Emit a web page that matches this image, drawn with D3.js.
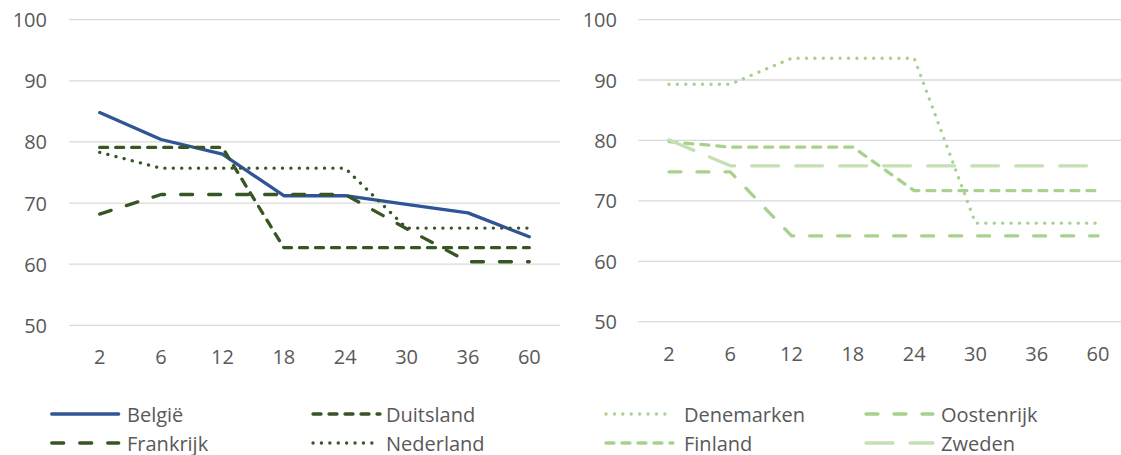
<!DOCTYPE html>
<html>
<head>
<meta charset="utf-8">
<script src="https://cdn.jsdelivr.net/npm/d3@7"></script>
<style>
  html, body { margin: 0; padding: 0; background: #fff; }
  svg { display: block; }
  text { font-family: "Open Sans", "Noto Sans", sans-serif; fill: #595959; }
</style>
</head>
<body>
<svg id="chart" width="1121" height="455"></svg>
<script>
// ---- data ----
const categories = ["2", "6", "12", "18", "24", "30", "36", "60"];
const yTicks = [50, 60, 70, 80, 90, 100];

// left panel
const belgie     = [84.8, 80.4, 78.0, 71.2, 71.2, 69.8, 68.4, 64.5];
const duitsland  = [79.1, 79.1, 79.1, 62.7, 62.7, 62.7, 62.7, 62.7];
const frankrijk  = [68.2, 71.4, 71.4, 71.4, 71.4, 65.8, 60.4, 60.4];
const nederland  = [78.3, 75.7, 75.7, 75.7, 75.7, 65.9, 65.9, 65.9];

// right panel
const denemarken = [89.3, 89.3, 93.6, 93.6, 93.6, 66.3, 66.3, 66.3];
const oostenrijk = [74.8, 74.8, 64.2, 64.2, 64.2, 64.2, 64.2, 64.2];
const finland    = [79.8, 78.9, 78.9, 78.9, 71.7, 71.7, 71.7, 71.7];
const zweden     = [80.1, 75.8, 75.8, 75.8, 75.8, 75.8, 75.8, 75.8];

// ---- styles ----
const styles = {
  "België":     { color: "#2F5597", dash: null,        width: 3.3 },
  "Duitsland":  { color: "#375623", dash: "8,8",       width: 3.3 },
  "Frankrijk":  { color: "#375623", dash: "12,16",     width: 3.3 },
  "Nederland":  { color: "#375623", dash: "0.1,8.3",   width: 3.3 },
  "Denemarken": { color: "#A9D18E", dash: "0.1,8.3",   width: 3.3 },
  "Oostenrijk": { color: "#A9D18E", dash: "12,16",     width: 3.3 },
  "Finland":    { color: "#A9D18E", dash: "8,8",       width: 3.3 },
  "Zweden":     { color: "#C5E0B4", dash: "27,17",     width: 3.3 }
};

const panels = [
  { x0: 69,    x1: 560,    yTop: 19.7, yBot: 325.3, labelRight: 47,  xLabelY: 356,
    series: [["België", belgie], ["Duitsland", duitsland], ["Frankrijk", frankrijk], ["Nederland", nederland]],
    legend: { cols: [[51.7, 127], [313, 386]], rows: [414, 443],
              order: [["België", 0, 0], ["Duitsland", 1, 0], ["Frankrijk", 0, 1], ["Nederland", 1, 1]] } },
  { x0: 638.3, x1: 1128.7, yTop: 19.6, yBot: 321.7, labelRight: 617, xLabelY: 353,
    series: [["Denemarken", denemarken], ["Oostenrijk", oostenrijk], ["Finland", finland], ["Zweden", zweden]],
    legend: { cols: [[606, 684], [866, 941]], rows: [414, 443],
              order: [["Denemarken", 0, 0], ["Oostenrijk", 1, 0], ["Finland", 0, 1], ["Zweden", 1, 1]] } }
];

const svg = d3.select("#chart");
const fontSize = 20;

panels.forEach(p => {
  const x = d3.scaleBand().domain(categories).range([p.x0, p.x1]).padding(0);
  const y = d3.scaleLinear().domain([50, 100]).range([p.yBot, p.yTop]);
  const g = svg.append("g");

  // gridlines
  g.selectAll("line.grid").data(yTicks).join("line")
    .attr("x1", p.x0).attr("x2", p.x1)
    .attr("y1", d => y(d)).attr("y2", d => y(d))
    .attr("stroke", "#D9D9D9").attr("stroke-width", 1.3);

  // y labels
  g.selectAll("text.ylab").data(yTicks).join("text")
    .attr("x", p.labelRight).attr("y", d => y(d))
    .attr("text-anchor", "end").attr("dominant-baseline", "central")
    .attr("font-size", fontSize).text(d => d);

  // x labels
  g.selectAll("text.xlab").data(categories).join("text")
    .attr("x", d => x(d) + x.bandwidth() / 2).attr("y", p.xLabelY)
    .attr("text-anchor", "middle").attr("dominant-baseline", "central")
    .attr("font-size", fontSize).text(d => d);

  const line = d3.line()
    .x((d, i) => x(categories[i]) + x.bandwidth() / 2)
    .y(d => y(d));

  p.series.forEach(([name, vals]) => {
    const s = styles[name];
    g.append("path").datum(vals)
      .attr("d", line)
      .attr("fill", "none")
      .attr("stroke", s.color)
      .attr("stroke-width", s.width)
      .attr("stroke-linecap", "round")
      .attr("stroke-linejoin", "round")
      .attr("stroke-dasharray", s.dash);
  });

  // legend
  p.legend.order.forEach(([name, c, r]) => {
    const s = styles[name];
    const [sx, tx] = p.legend.cols[c];
    const ly = p.legend.rows[r];
    g.append("line")
      .attr("x1", sx).attr("x2", sx + 67)
      .attr("y1", ly).attr("y2", ly)
      .attr("stroke", s.color).attr("stroke-width", s.width)
      .attr("stroke-linecap", "round")
      .attr("stroke-dasharray", s.dash);
    g.append("text")
      .attr("x", tx).attr("y", ly)
      .attr("dominant-baseline", "central")
      .attr("font-size", fontSize).text(name);
  });
});
</script>
</body>
</html>
